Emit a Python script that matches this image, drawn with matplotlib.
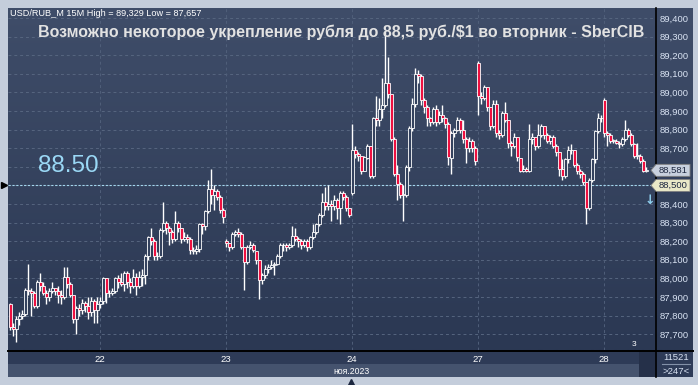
import matplotlib
matplotlib.use('Agg')
import matplotlib.pyplot as plt
import numpy as np
from matplotlib.patches import Rectangle, Polygon
from matplotlib.colors import LinearSegmentedColormap

plt.rcParams['font.family'] = ['Liberation Sans', 'DejaVu Sans']

# ---------------- data (USD/RUB 15M candles, 21-28 Nov 2023) ----------------
day_labels = ['22', '23', '24', '27', '28']
month_label = 'ноя.2023'

d21_close = [87.74, 87.73, 87.78, 87.80, 87.81, 87.94, 87.93, 87.92, 87.85, 87.98, 87.96, 87.92, 87.90, 87.93, 87.95,
             87.93, 87.91, 87.90, 88.01, 87.97, 87.91, 87.78, 87.84, 87.83, 87.87, 87.85, 87.82, 87.88, 87.83, 87.86]
d21_high = [87.87, 87.76, 87.80, 87.82, 87.83, 87.95, 88.08, 87.95, 87.93, 87.99, 88.03, 87.98, 87.94, 87.95, 87.98,
            87.95, 87.96, 87.94, 88.06, 88.06, 87.98, 87.91, 87.85, 87.86, 87.89, 87.88, 87.90, 87.90, 87.89, 87.90]
d21_low = [87.72, 87.69, 87.66, 87.75, 87.78, 87.80, 87.91, 87.80, 87.84, 87.84, 87.93, 87.91, 87.86, 87.88, 87.92,
           87.91, 87.87, 87.86, 87.89, 87.95, 87.90, 87.76, 87.70, 87.80, 87.81, 87.82, 87.78, 87.80, 87.76, 87.76]

d22_close = [87.88, 88.00, 87.92, 87.92, 87.93, 88.00, 87.98, 87.97, 88.03, 87.98, 87.96, 88.01, 87.96, 88.01, 88.02,
             88.12, 88.22, 88.20, 88.12, 88.12, 88.26, 88.30, 88.27, 88.25, 88.21, 88.30, 88.27, 88.21, 88.22, 88.21,
             88.15, 88.15, 88.16, 88.29, 88.28, 88.36, 88.48, 88.45, 88.47, 88.44, 88.37, 88.33]
d22_high = [87.90, 88.01, 88.00, 87.94, 87.95, 88.01, 88.02, 88.03, 88.04, 88.04, 88.00, 88.05, 88.03, 88.04, 88.05,
            88.13, 88.23, 88.27, 88.21, 88.14, 88.27, 88.41, 88.31, 88.28, 88.26, 88.36, 88.31, 88.27, 88.25, 88.24,
            88.22, 88.17, 88.18, 88.30, 88.30, 88.37, 88.53, 88.59, 88.50, 88.48, 88.45, 88.38]
d22_low = [87.84, 87.86, 87.87, 87.90, 87.91, 87.92, 87.95, 87.96, 87.93, 87.95, 87.92, 87.95, 87.91, 87.95, 87.96,
           87.97, 88.10, 88.18, 88.10, 88.10, 88.11, 88.25, 88.24, 88.18, 88.19, 88.20, 88.25, 88.19, 88.20, 88.19,
           88.13, 88.13, 88.13, 88.14, 88.24, 88.26, 88.35, 88.40, 88.37, 88.42, 88.35, 88.30]

d23_close = [88.19, 88.17, 88.24, 88.25, 88.24, 88.17, 88.09, 88.17, 88.18, 88.15, 88.10, 87.99, 88.02, 88.05, 88.06,
             88.07, 88.08, 88.12, 88.18, 88.18, 88.17, 88.18, 88.23, 88.21, 88.20, 88.18, 88.20, 88.17, 88.22, 88.25,
             88.29, 88.34, 88.41, 88.39, 88.40, 88.39, 88.42, 88.38, 88.46, 88.44, 88.38, 88.34]
d23_high = [88.21, 88.19, 88.25, 88.26, 88.27, 88.25, 88.17, 88.18, 88.20, 88.19, 88.15, 88.10, 88.03, 88.07, 88.08,
            88.10, 88.09, 88.13, 88.19, 88.19, 88.19, 88.19, 88.28, 88.27, 88.22, 88.21, 88.21, 88.21, 88.23, 88.29,
            88.30, 88.35, 88.46, 88.49, 88.50, 88.42, 88.45, 88.43, 88.47, 88.47, 88.45, 88.38]
d23_low = [88.17, 88.15, 88.16, 88.23, 88.22, 88.16, 87.94, 88.08, 88.16, 88.14, 88.08, 87.89, 87.97, 88.00, 88.03,
           88.05, 88.02, 88.07, 88.11, 88.15, 88.15, 88.16, 88.17, 88.20, 88.17, 88.16, 88.17, 88.15, 88.16, 88.21,
           88.24, 88.28, 88.33, 88.37, 88.37, 88.31, 88.37, 88.32, 88.29, 88.42, 88.36, 88.33]

d24_close = [88.69, 88.67, 88.66, 88.58, 88.65, 88.71, 88.55, 88.86, 88.85, 88.91, 88.93, 89.05, 88.99, 88.75, 88.56,
             88.51, 88.45, 88.45, 88.60, 88.81, 88.94, 89.10, 89.09, 88.96, 88.92, 88.86, 88.84, 88.91, 88.84, 88.88,
             88.86, 88.83, 88.65, 88.78, 88.80, 88.85, 88.80, 88.75, 88.70, 88.74, 88.70, 88.63]
d24_high = [88.83, 88.71, 88.68, 88.66, 88.66, 88.72, 88.71, 88.87, 88.98, 88.97, 89.08, 89.33, 89.19, 88.99, 88.76,
            88.61, 88.52, 88.50, 88.61, 88.82, 88.97, 89.13, 89.12, 89.10, 88.97, 88.93, 88.87, 88.92, 88.93, 88.90,
            88.93, 88.87, 88.84, 88.79, 88.81, 88.87, 88.86, 88.85, 88.76, 88.76, 88.75, 88.71]
d24_low = [88.45, 88.65, 88.63, 88.56, 88.58, 88.64, 88.54, 88.54, 88.82, 88.82, 88.86, 88.92, 88.97, 88.74, 88.55,
           88.42, 88.43, 88.31, 88.44, 88.58, 88.79, 88.92, 89.05, 88.93, 88.89, 88.82, 88.82, 88.83, 88.82, 88.83,
           88.84, 88.81, 88.61, 88.56, 88.76, 88.79, 88.78, 88.73, 88.62, 88.68, 88.68, 88.61]

d27_close = [88.98, 88.97, 89.03, 88.92, 88.82, 88.94, 88.78, 88.77, 88.89, 88.85, 88.73, 88.71, 88.76, 88.65, 88.58,
             88.59, 88.58, 88.75, 88.76, 88.71, 88.77, 88.82, 88.77, 88.74, 88.76, 88.71, 88.68, 88.59, 88.55, 88.64,
             88.69, 88.69, 88.61, 88.58, 88.56, 88.52, 88.38, 88.53, 88.64, 88.79, 88.86, 88.86]
d27_high = [89.17, 89.00, 89.04, 89.03, 88.92, 88.96, 88.96, 88.80, 88.90, 88.95, 88.85, 88.74, 88.78, 88.76, 88.65,
            88.61, 88.60, 88.83, 88.78, 88.76, 88.83, 88.83, 88.82, 88.78, 88.77, 88.77, 88.72, 88.68, 88.64, 88.65,
            88.71, 88.72, 88.69, 88.62, 88.59, 88.57, 88.52, 88.54, 88.65, 88.80, 88.89, 88.88]
d27_low = [88.88, 88.94, 88.96, 88.90, 88.80, 88.81, 88.76, 88.75, 88.76, 88.84, 88.70, 88.66, 88.70, 88.63, 88.57,
           88.57, 88.57, 88.57, 88.72, 88.69, 88.70, 88.76, 88.75, 88.73, 88.72, 88.70, 88.66, 88.55, 88.53, 88.54,
           88.62, 88.67, 88.60, 88.56, 88.54, 88.50, 88.29, 88.37, 88.52, 88.62, 88.78, 88.84]

d28_close = [88.78, 88.77, 88.74, 88.74, 88.73, 88.72, 88.75, 88.80, 88.77, 88.72, 88.66, 88.66, 88.63, 88.58, 88.58]
d28_high = [88.97, 88.79, 88.78, 88.75, 88.75, 88.74, 88.76, 88.85, 88.81, 88.78, 88.73, 88.73, 88.67, 88.64, 88.60]
d28_low = [88.76, 88.71, 88.73, 88.73, 88.72, 88.70, 88.71, 88.74, 88.76, 88.71, 88.65, 88.64, 88.62, 88.57, 88.57]

# opening price of the first bar of each session (others open at previous close)
session_open = [87.86, 87.86, 88.20, 88.46, 89.16, 88.96]

y_levels = [87.7, 87.8, 87.9, 88.0, 88.1, 88.2, 88.3, 88.4, 88.5, 88.6, 88.7, 88.8, 88.9, 89.0, 89.1, 89.2, 89.3, 89.4]
hidden_level = 88.6   # its label sits under the last-price tag
level_line = 88.50
last_price = 88.581
header = 'USD/RUB_M 15M High = 89,329 Low = 87,657'
title = 'Возможно некоторое укрепление рубля до 88,5 руб./$1 во вторник - SberCIB'

# ---------------- assemble ----------------
sessions_c = [d21_close, d22_close, d23_close, d24_close, d27_close, d28_close]
sessions_h = [d21_high, d22_high, d23_high, d24_high, d27_high, d28_high]
sessions_l = [d21_low, d22_low, d23_low, d24_low, d27_low, d28_low]
O, Hh, Ll, C = [], [], [], []
day_starts = []
prev = None
for s, (cs, hs, ls) in enumerate(zip(sessions_c, sessions_h, sessions_l)):
    if s > 0:
        day_starts.append(len(C))
    for j, (c, h, l) in enumerate(zip(cs, hs, ls)):
        o = session_open[s] if j == 0 else prev
        O.append(o); C.append(c)
        Hh.append(max(h, o, c)); Ll.append(min(l, o, c))
        prev = c
O, Hh, Ll, C = map(np.array, (O, Hh, Ll, C))
idx = np.arange(len(C))

# ---------------- figure ----------------
W, H = 698, 385
fig = plt.figure(figsize=(W / 100, H / 100), dpi=100)

bg = fig.add_axes([0, 0, 1, 1])
bg.set_xlim(0, W); bg.set_ylim(H, 0); bg.axis('off')
bg.add_patch(Rectangle((0, 0), W, H, color='#c4cddb', lw=0))
bg.add_patch(Rectangle((8, 8), 685, 369, color='#2e3b57', lw=0))
grad_cmap = LinearSegmentedColormap.from_list('g', ['#3f4d69', '#2b3853'])
gradient = np.linspace(0, 1, 256).reshape(-1, 1)
bg.imshow(gradient, cmap=grad_cmap, extent=[655, 693, 350, 8], aspect='auto', zorder=1)
bg.add_patch(Rectangle((8, 364), 631, 13, color='#45536e', lw=0, zorder=2))
bg.add_patch(Rectangle((639, 350), 16, 27, color='#253049', lw=0, zorder=2))
bg.plot([8, 693], [350.5, 350.5], color='black', lw=1.4, zorder=3)
bg.plot([655.5, 655.5], [8, 377], color='black', lw=1.2, zorder=3)
bg.plot([662, 690], [364, 364], color='#8391a8', lw=0.8, zorder=3)
bg.plot([3.5], [185], marker='>', color='black', ms=4, zorder=3)
bg.plot([351], [382], marker='^', color='#1c2740', ms=5, zorder=3)

ax = fig.add_axes([8 / W, (H - 350) / H, 647 / W, 342 / H])
x0, x1 = -2 / 3, 215
y0, y1 = 89.4 - 332 / 186, 89.4 + 10 / 186
ax.set_xlim(x0, x1); ax.set_ylim(y0, y1)
ax.imshow(gradient, cmap=grad_cmap, extent=[x0, x1, y0, y1], aspect='auto', zorder=0)
for s in ax.spines.values():
    s.set_visible(False)

for lv in y_levels:
    ax.axhline(lv, color='#56657f', lw=0.7, ls=(0, (3, 3)), zorder=1)
for ds in day_starts:
    ax.axvline(ds, color='#505f7a', lw=0.7, ls=(0, (3, 3)), zorder=1)
ax.axhline(level_line, color='#a4d6ee', lw=0.8, ls=(0, (2, 1.5)), zorder=1.5)

# candles
up = C >= O
ax.vlines(idx, Ll, Hh, color='white', lw=1.0, zorder=2)
ax.bar(idx[up], np.maximum(C[up] - O[up], 0.002), bottom=O[up], width=1.0,
       color='#34425e', edgecolor='white', lw=0.6, zorder=3)
ax.bar(idx[~up], C[~up] - O[~up], bottom=O[~up], width=1.0,
       color='#ee1040', edgecolor='white', lw=0.6, zorder=3)

ax.yaxis.tick_right()
ax.set_yticks(y_levels)
ax.set_yticklabels(['' if abs(v - hidden_level) < 1e-9 else f'{v:.3f}'.replace('.', ',') for v in y_levels])
ax.tick_params(axis='y', length=0, pad=3, labelsize=6.8, labelcolor='#d9e3f3')
ax.set_xticks(day_starts)
ax.set_xticklabels(day_labels)
ax.tick_params(axis='x', length=0, pad=3.5, labelsize=6.8, labelcolor='white')

ax.text(9.3, 88.604, '88.50', color='#9ad8f5', fontsize=17.5, va='center', ha='left', zorder=5)

# overlay
ov = fig.add_axes([0, 0, 1, 1])
ov.set_xlim(0, W); ov.set_ylim(H, 0); ov.axis('off')
py = lambda p: 18 + (89.4 - p) * 186
for p, fc in [(last_price, '#c8d0de'), (level_line, '#e9e8c8')]:
    yc = py(p)
    ov.add_patch(Polygon([[651, yc], [656, yc - 6], [690, yc - 6], [690, yc + 6], [656, yc + 6]],
                         closed=True, fc=fc, ec='#808080', lw=0.6))
    ov.text(659, yc, f'{p:.3f}'.replace('.', ','), fontsize=6.8, color='#1d2740', va='center', ha='left')
ov.text(650, 200, '↓', fontsize=9, color='#8fd0f0', fontweight='bold', ha='center', va='center',
        family=['DejaVu Sans'])
ov.text(634, 345, '3', fontsize=6, color='white', ha='center', va='center')
ov.text(10, 14, header, fontsize=6.6, color='white', ha='left', va='center')
ov.text(341, 32, title, fontsize=11.5, fontweight='bold', color='#e2e2e2', ha='center', va='center')
ov.text(351, 371, month_label, fontsize=6.2, color='white', ha='center', va='center')
ov.text(676, 357, '11521', fontsize=6.8, color='#d9e3f3', ha='center', va='center')
ov.text(676, 372, '>247<', fontsize=6.8, color='#d9e3f3', ha='center', va='center')

fig.savefig('out.png', dpi=100)
